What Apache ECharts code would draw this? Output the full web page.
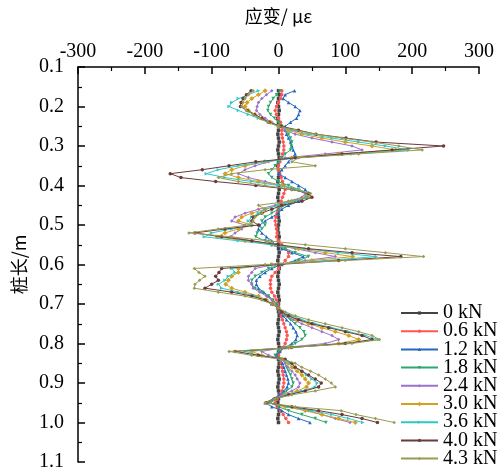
<!DOCTYPE html>
<html>
<head>
<meta charset="utf-8">
<script src="https://cdn.jsdelivr.net/npm/echarts@6/dist/echarts.min.js"></script>
<style>
  html, body { margin: 0; padding: 0; background: #fff; }
  #chart { width: 497px; height: 472px; }
</style>
</head>
<body>
<div id="chart"></div>
<script>
// 桩长 (m)
var depth = [0.16,0.17,0.18,0.19,0.20,0.21,0.22,0.23,0.24,0.25,
  0.26,0.27,0.28,0.29,0.30,0.31,0.32,0.33,0.34,0.35,
  0.36,0.37,0.38,0.39,0.40,0.41,0.42,0.43,0.44,0.45,
  0.46,0.47,0.48,0.49,0.50,0.51,0.52,0.53,0.54,0.55,
  0.56,0.57,0.58,0.59,0.60,0.61,0.62,0.63,0.64,0.65,
  0.66,0.67,0.68,0.69,0.70,0.71,0.72,0.73,0.74,0.75,
  0.76,0.77,0.78,0.79,0.80,0.81,0.82,0.83,0.84,0.85,
  0.86,0.87,0.88,0.89,0.90,0.91,0.92,0.93,0.94,0.95,
  0.96,0.97,0.98,0.99,1.00];

var loads = ['0 kN','0.6 kN','1.2 kN','1.8 kN','2.4 kN','3.0 kN','3.6 kN','4.0 kN','4.3 kN'];

// 应变 (με)
var s00 = [0,1,0,-1,0,1,0,-1,0,1, 0,-1,0,1,0,-1,0,1,0,-1, 0,1,0,-1,0,1,0,-1,0,1,
  0,-1,0,1,0,-1,0,1,0,-1, 0,1,0,-1,0,1,0,-1,0,1, 0,-1,0,1,0,-1,0,1,0,-1,
  0,1,0,-1,0,1,0,-1,0,1, 0,-1,0,1,0,-1,0,1,0,-1, 0,1,0,-1,0];
var s06 = [5,5,3,0,-3,-5,-3,0,3,5, 5,5,6,7,8,8,6,4,2,0, 0,2,4,6,8,10,8,6,4,2,
  0,-2,-4,-5,-4,-3,-2,-3,0,5, 10,15,15,10,5,0,-5,-10,-12,-12, -12,-10,-6,-3,-1,0,2,4,6,8,
  10,12,13,12,10,6,2,0,2,4, 5,6,7,8,8,7,5,2,-2,-5, -2,3,7,11,15];
var s12 = [24,10,7,15,25,32,30,27,18,10, 10,12,15,18,20,22,25,20,15,10, 5,0,10,20,30,40,45,42,30,15,
  5,0,-10,-20,-28,-30,-25,-18,-10,-5, 5,20,37,25,5,-10,-20,-28,-33,-33, -30,-22,-15,-8,-3,0,3,7,12,18,
  22,26,28,26,20,10,2,-3,3,6, 8,10,12,14,15,13,8,2,-8,-20, -10,5,15,30,47];
var s18 = [2,-3,-8,-12,-15,-16,-12,-6,0,5, 10,15,18,20,19,18,10,5,0,-5, -10,-15,-10,0,15,30,42,40,25,10,
  0,-10,-20,-25,-20,-25,-32,-34,-20,-5, 10,25,45,30,5,-15,-25,-35,-40,-40, -35,-25,-15,-8,-3,0,5,10,18,25,
  32,38,40,35,25,10,0,-5,5,10, 12,15,18,20,22,20,12,5,-3,-12, 0,15,35,55,71];
var s24 = [-10,-18,-25,-30,-32,-33,-28,-20,-10,0, 10,25,50,80,110,125,70,10,-15,-35, -50,-60,-45,-20,5,25,40,35,15,-5,
  -30,-50,-65,-70,-50,-55,-65,-72,-40,-5, 25,55,85,40,-5,-35,-40,-45,-45,-40, -38,-28,-18,-10,-5,0,5,12,22,35,
  50,65,80,90,70,10,-25,-15,5,10, 14,20,25,28,32,30,20,5,-5,-15, 10,45,65,85,107];
var s30 = [-20,-30,-40,-47,-50,-45,-35,-25,-12,0, 15,35,65,100,140,175,90,20,-20,-50, -70,-80,-60,-30,5,30,45,40,20,0,
  -20,-40,-55,-60,-40,-60,-80,-92,-50,-10, 30,70,111,50,-10,-60,-60,-70,-75,-79, -70,-50,-30,-18,-8,0,6,15,28,45,
  65,85,105,120,90,15,-40,-25,5,15, 20,28,35,40,45,42,28,10,-5,-15, 10,40,65,90,115];
var s36 = [-30,-45,-60,-70,-74,-60,-45,-30,-15,0, 20,45,80,120,160,195,110,30,-20,-60, -90,-108,-80,-40,0,30,45,42,20,0,
  -20,-30,-40,-45,-40,-70,-100,-111,-60,-10, 40,90,146,70,-10,-70,-65,-75,-80,-90, -85,-60,-35,-20,-10,0,8,20,35,55,
  80,105,130,150,100,20,-50,-30,5,18, 25,35,42,50,58,55,35,12,-5,-15, 15,50,80,105,126];
var s40 = [-41,-48,-53,-56,-57,-47,-36,-25,-14,4, 30,56,101,146,247,170,95,25,-34,-74, -114,-162,-146,-94,-34,20,45,50,35,5,
  -10,-25,-38,-40,-30,-80,-125,-85,-40,0, 45,110,183,90,0,-85,-89,-94,-90,-100, -110,-70,-40,-20,-10,0,5,15,30,50,
  75,100,125,140,100,20,-65,-30,10,20, 25,35,45,55,64,60,40,15,-5,-18, 20,60,95,125,148];
var s43 = [-38,-45,-50,-53,-55,-48,-38,-28,-16,0, 25,55,95,140,180,215,120,30,20,55, -20,-70,-90,-60,-20,20,48,45,15,-30,
  -20,-25,-35,-38,-45,-90,-134,-70,-15,40, 100,160,217,100,-20,-126,-119,-110,-118,-125, -126,-90,-50,-25,-10,0,10,25,45,70,
  95,120,140,151,110,20,-74,-40,5,25, 35,48,60,70,79,85,55,20,-5,-20, 25,94,116,145,173];

var strain = [s00, s06, s12, s18, s24, s30, s36, s40, s43];
var colors = ['#444444','#ff5555','#2468c0','#2ea86a','#9b72cc','#d4a020','#2ec8c8','#6b3a3a','#9a9a50'];
var symbols = ['rect','circle','triangle','triangle','diamond','rect','triangle','circle','diamond'];
var rotates = [0,0,0,180,0,45,-90,0,0];

var chart = echarts.init(document.getElementById('chart'));

var series = loads.map(function (name, k) {
  return {
    name: name,
    type: 'line',
    data: strain[k].map(function (v, i) { return [v, depth[i]]; }),
    symbol: symbols[k],
    symbolRotate: rotates[k],
    symbolSize: 3.5,
    showSymbol: true,
    lineStyle: { width: 1, color: colors[k] },
    itemStyle: { color: colors[k] },
    z: 2 + k
  };
});

var serif = "'Liberation Serif', 'Times New Roman', serif";
var cjk = "'Noto Sans CJK SC', sans-serif";

chart.setOption({
  animation: false,
  color: colors,
  grid: { left: 78, right: 15, top: 67, bottom: 9, containLabel: false },
  xAxis: {
    type: 'value',
    position: 'top',
    min: -300, max: 300, interval: 100,
    name: '应变/ με',
    nameLocation: 'middle',
    nameGap: 42,
    nameTextStyle: { fontSize: 18, color: '#000', fontFamily: cjk },
    axisLine: { show: true, onZero: false, lineStyle: { color: '#000', width: 1.5 } },
    axisTick: { show: true, inside: true, length: 7, lineStyle: { color: '#000', width: 1.5 } },
    minorTick: { show: true, splitNumber: 2, length: 4, lineStyle: { color: '#000', width: 1.2 } },
    axisLabel: { fontSize: 20, color: '#000', margin: 5, fontFamily: serif },
    splitLine: { show: false }
  },
  yAxis: {
    type: 'value',
    inverse: true,
    min: 0.1, max: 1.1, interval: 0.1,
    name: '桩长/m',
    nameLocation: 'middle',
    nameGap: 50,
    nameRotate: 90,
    nameTextStyle: { fontSize: 18, color: '#000', fontFamily: cjk },
    axisLine: { show: true, onZero: false, lineStyle: { color: '#000', width: 1.5 } },
    axisTick: { show: true, inside: true, length: 7, lineStyle: { color: '#000', width: 1.5 } },
    minorTick: { show: true, splitNumber: 2, length: 4, lineStyle: { color: '#000', width: 1.2 } },
    axisLabel: {
      fontSize: 20, color: '#000', margin: 14, fontFamily: serif,
      formatter: function (v) { return v.toFixed(1); }
    },
    splitLine: { show: false }
  },
  legend: {
    orient: 'vertical',
    left: 400,
    top: 303,
    padding: 0,
    itemWidth: 37,
    itemHeight: 4,
    itemGap: -1.8,
    data: loads,
    textStyle: { fontSize: 20, color: '#000', fontFamily: serif }
  },
  series: series
});
</script>
</body>
</html>
